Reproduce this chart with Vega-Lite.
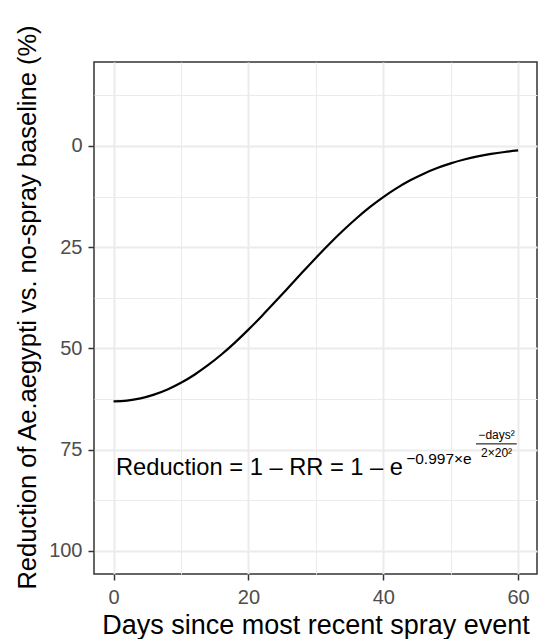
{
  "$schema": "https://vega.github.io/schema/vega-lite/v6.json",
  "width": 443,
  "height": 512,
  "autosize": "none",
  "padding": {"left": 94, "top": 62, "right": 1, "bottom": 65},
  "background": "white",
  "config": {
    "font": "Liberation Sans",
    "view": {"stroke": "#333333", "strokeWidth": 1.5}
  },
  "layer": [
    {
      "data": {"values": [
        {"days": 0, "reduction": 63.10}, {"days": 2, "reduction": 62.92}, {"days": 4, "reduction": 62.36},
        {"days": 6, "reduction": 61.44}, {"days": 8, "reduction": 60.16}, {"days": 10, "reduction": 58.51},
        {"days": 12, "reduction": 56.51}, {"days": 14, "reduction": 54.17}, {"days": 16, "reduction": 51.52},
        {"days": 18, "reduction": 48.57}, {"days": 20, "reduction": 45.38}, {"days": 22, "reduction": 41.98},
        {"days": 24, "reduction": 38.45}, {"days": 26, "reduction": 34.84}, {"days": 28, "reduction": 31.21},
        {"days": 30, "reduction": 27.65}, {"days": 32, "reduction": 24.21}, {"days": 34, "reduction": 20.95},
        {"days": 36, "reduction": 17.91}, {"days": 38, "reduction": 15.12}, {"days": 40, "reduction": 12.62},
        {"days": 42, "reduction": 10.41}, {"days": 44, "reduction": 8.48}, {"days": 46, "reduction": 6.83},
        {"days": 48, "reduction": 5.44}, {"days": 50, "reduction": 4.29}, {"days": 52, "reduction": 3.34},
        {"days": 54, "reduction": 2.57}, {"days": 56, "reduction": 1.96}, {"days": 58, "reduction": 1.48},
        {"days": 60, "reduction": 1.10}
      ]},
      "mark": {"type": "line", "color": "black", "strokeWidth": 2.2, "interpolate": "monotone"},
      "encoding": {
        "x": {
          "field": "days", "type": "quantitative",
          "scale": {"domain": [-2.9, 62.8], "nice": false, "zero": false},
          "axis": {
            "values": [0, 10, 20, 30, 40, 50, 60],
            "title": "Days since most recent spray event",
            "titleFontSize": 27, "titleFontWeight": "normal", "titleColor": "black", "titlePadding": 5,
            "labelFontSize": 20, "labelColor": "#4D4D4D",
            "labelExpr": "datum.value % 20 === 0 ? datum.label : ''",
            "labelPadding": 7, "labelFlush": false, "labelOverlap": false,
            "tickSize": 6, "tickColor": "#333333", "tickWidth": 1.5,
            "tickOpacity": {"condition": {"test": "datum.value % 20 === 0", "value": 1}, "value": 0},
            "domain": false,
            "grid": true, "gridColor": "#EBEBEB",
            "gridWidth": {"condition": {"test": "datum.value % 20 === 0", "value": 2}, "value": 1}
          }
        },
        "y": {
          "field": "reduction", "type": "quantitative",
          "scale": {"domain": [-20.75, 105.75], "nice": false, "zero": false, "reverse": true},
          "axis": {
            "values": [-12.5, 0, 12.5, 25, 37.5, 50, 62.5, 75, 87.5, 100],
            "title": "Reduction of Ae.aegypti vs. no-spray baseline (%)",
            "titleFontSize": 25.5, "titleFontWeight": "normal", "titleColor": "black", "titlePadding": 8,
            "titleY": 245,
            "labelFontSize": 20, "labelColor": "#4D4D4D",
            "labelExpr": "datum.value % 25 === 0 ? datum.label : ''",
            "labelPadding": 6, "labelFlush": false, "labelOverlap": false,
            "tickSize": 6, "tickColor": "#333333", "tickWidth": 1.5,
            "tickOpacity": {"condition": {"test": "datum.value % 25 === 0", "value": 1}, "value": 0},
            "domain": false,
            "grid": true, "gridColor": "#EBEBEB",
            "gridWidth": {"condition": {"test": "datum.value % 25 === 0", "value": 2}, "value": 1}
          }
        }
      }
    },
    {
      "data": {"values": [{"label": "Reduction = 1 – RR = 1 – e"}]},
      "mark": {"type": "text", "align": "left", "baseline": "alphabetic", "fontSize": 23.7, "color": "black"},
      "encoding": {
        "x": {"datum": 0.36, "type": "quantitative"},
        "y": {"datum": 81.3, "type": "quantitative"},
        "text": {"field": "label"}
      }
    },
    {
      "data": {"values": [{"label": "−0.997×e"}]},
      "mark": {"type": "text", "align": "left", "baseline": "alphabetic", "fontSize": 15.5, "color": "black"},
      "encoding": {
        "x": {"datum": 43.4, "type": "quantitative"},
        "y": {"datum": 78.6, "type": "quantitative"},
        "text": {"field": "label"}
      }
    },
    {
      "data": {"values": [{"label": "−days²"}]},
      "mark": {"type": "text", "align": "center", "baseline": "alphabetic", "fontSize": 12, "color": "black"},
      "encoding": {
        "x": {"datum": 56.8, "type": "quantitative"},
        "y": {"datum": 72.3, "type": "quantitative"},
        "text": {"field": "label"}
      }
    },
    {
      "data": {"values": [{"label": "2×20²"}]},
      "mark": {"type": "text", "align": "center", "baseline": "alphabetic", "fontSize": 12, "color": "black"},
      "encoding": {
        "x": {"datum": 56.8, "type": "quantitative"},
        "y": {"datum": 76.8, "type": "quantitative"},
        "text": {"field": "label"}
      }
    },
    {
      "data": {"values": [{"part": "fraction bar"}]},
      "mark": {"type": "rule", "color": "black", "strokeWidth": 1},
      "encoding": {
        "x": {"datum": 53.75, "type": "quantitative"},
        "x2": {"datum": 59.8},
        "y": {"datum": 73.6, "type": "quantitative"}
      }
    }
  ]
}
